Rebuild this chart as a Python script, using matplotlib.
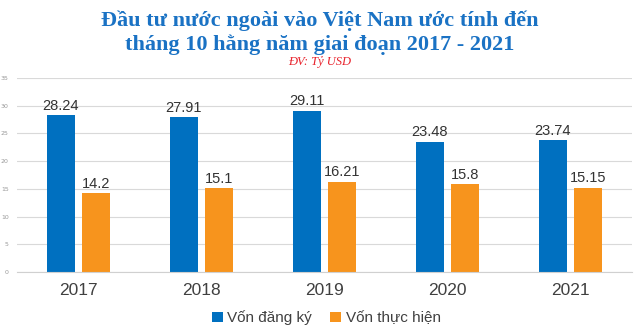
import matplotlib.pyplot as plt
import numpy as np

years = ["2017", "2018", "2019", "2020", "2021"]
von_dang_ky = [28.24, 27.91, 29.11, 23.48, 23.74]
von_thuc_hien = [14.2, 15.1, 16.21, 15.8, 15.15]
series_names = ["Vốn đăng ký", "Vốn thực hiện"]
yticks = [0, 5, 10, 15, 20, 25, 30, 35]

blue = "#0070C0"
orange = "#F7941D"

fig = plt.figure(figsize=(6.4, 3.33), dpi=100)
ax = fig.add_axes([17 / 640, 1 - 272 / 333, 615 / 640, 194 / 333])

x = np.arange(len(years))
w = 0.228
gap = 0.03
b1 = ax.bar(x - w / 2 - gap, von_dang_ky, w, color=blue, label=series_names[0])
b2 = ax.bar(x + w / 2 + gap, von_thuc_hien, w, color=orange, label=series_names[1])

# value labels above each bar
for bars in (b1, b2):
    for rect in bars:
        h = rect.get_height()
        ax.text(rect.get_x() + rect.get_width() / 2, h + 0.5, f"{h:g}",
                ha="center", va="bottom", fontsize=10.5, color="#333333",
                family="Liberation Sans")

ax.set_ylim(0, 35)
ax.set_xlim(-0.5, len(years) - 0.5)
ax.set_yticks(yticks)
ax.tick_params(axis="y", labelsize=4.5, colors="#999999", length=0, pad=6)
ax.set_xticks(x)
ax.set_xticklabels(years, family="Liberation Sans")
ax.tick_params(axis="x", labelsize=12.5, colors="#404040", length=0, pad=8)
ax.grid(axis="y", color="#d9d9d9", linewidth=0.8)
ax.set_axisbelow(True)
for side in ("top", "right", "left"):
    ax.spines[side].set_visible(False)
ax.spines["bottom"].set_color("#d0d0d0")

leg = fig.legend(loc="center", bbox_to_anchor=(0.51, 1 - 318 / 333), ncol=2,
                 frameon=False, prop={"family": "Liberation Sans", "size": 11},
                 handlelength=0.7, handleheight=0.7,
                 handletextpad=0.3, columnspacing=1.2)
for t in leg.get_texts():
    t.set_color("#404040")

fig.text(0.5, 1 - 21 / 333, "Đầu tư nước ngoài vào Việt Nam ước tính đến",
         ha="center", va="center", fontsize=16, fontweight="bold",
         family="Liberation Serif", color="#1A72C4")
fig.text(0.5, 1 - 45 / 333, "tháng 10 hằng năm giai đoạn 2017 - 2021",
         ha="center", va="center", fontsize=16, fontweight="bold",
         family="Liberation Serif", color="#1A72C4")
fig.text(0.5, 1 - 62 / 333, "ĐV: Tỷ USD", ha="center", va="center",
         fontsize=9, style="italic", family="Liberation Serif", color="#E8212B")

fig.savefig("out.png", dpi=100)
